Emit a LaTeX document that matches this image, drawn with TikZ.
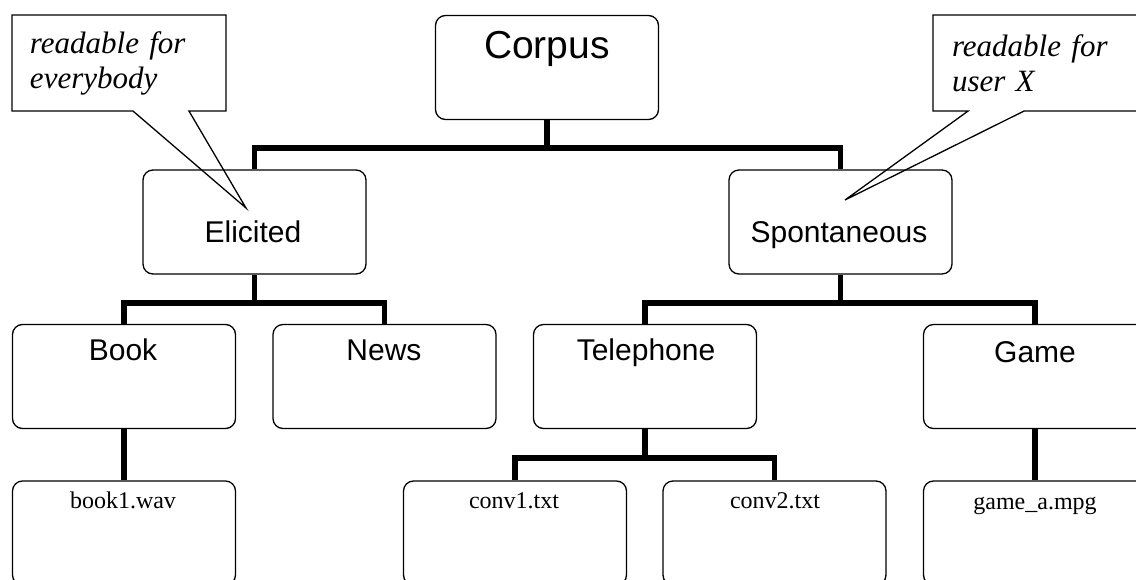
\documentclass[tikz,border=0pt]{standalone}
\usepackage{fontspec}
\setmainfont{Liberation Serif}
\newfontfamily\lsans{Liberation Sans}
\usetikzlibrary{shapes.callouts}
\begin{document}
\begin{tikzpicture}[x=1pt,y=-1pt,
  box/.style={draw, line width=1.3pt, rounded corners=10pt, minimum width=223pt, minimum height=104pt, inner sep=0pt},
  conn/.style={line width=5.5pt},
  big/.style={font=\lsans\fontsize{39}{46}\selectfont, anchor=base, inner sep=0pt},
  lbl/.style={font=\lsans\fontsize{30}{36}\selectfont, anchor=base, inner sep=0pt},
  fname/.style={font=\fontsize{24}{28}\selectfont, anchor=base, inner sep=0pt},
  note/.style={rectangle callout, draw, line width=1.3pt, font=\itshape\fontsize{31}{35}\selectfont, align=left, inner ysep=0pt, minimum height=96pt, callout pointer width=56pt}
]
\path[use as bounding box] (0,0) rectangle (1136,579);
\clip (0,0) rectangle (1136,579);

% boxes
\node[box] (corpus) at (547,67.5) {};
\node[box] (elicited) at (254.5,222) {};
\node[box] (spont) at (840.5,222) {};
\node[box] (book) at (124,376.5) {};
\node[box] (news) at (384.5,376.5) {};
\node[box] (tel) at (645,376.5) {};
\node[box] (game) at (1035,376.5) {};
\node[box] (book1) at (124,533) {};
\node[box] (conv1) at (515,533) {};
\node[box] (conv2) at (774.5,533) {};
\node[box] (gamea) at (1035,533) {};

% labels
\node[big] (corpus-t) at (547,58) {Corpus};
\node[lbl] (elicited-t) at (253,242) {Elicited};
\node[lbl] (spont-t) at (839,242) {Spontaneous};
\node[lbl] (book-t) at (123,360) {Book};
\node[lbl] (news-t) at (384,360) {News};
\node[lbl] (tel-t) at (646,360) {Telephone};
\node[lbl] (game-t) at (1035,362) {Game};
\node[fname] (book1-t) at (123,508) {book1.wav};
\node[fname] (conv1-t) at (514,508) {conv1.txt};
\node[fname] (conv2-t) at (775,508) {conv2.txt};
\node[fname] (gamea-t) at (1035,509) {game\_a.mpg};

% connectors
\coordinate (b1) at (547,148);
\draw[conn] (elicited.north) |- (b1) -| (spont.north);
\draw[conn] (corpus.south) -- (b1);
\coordinate (b2) at (254.5,303);
\draw[conn] (book.north) |- (b2) -| (news.north);
\draw[conn] (elicited.south) -- (b2);
\coordinate (b3) at (840.5,303);
\draw[conn] (tel.north) |- (b3) -| (game.north);
\draw[conn] (spont.south) -- (b3);
\draw[conn] (book.south) -- (book1.north);
\coordinate (b4) at (645,458);
\draw[conn] (conv1.north) |- (b4) -| (conv2.north);
\draw[conn] (tel.south) -- (b4);
\draw[conn] (game.south) -- (gamea.north);

% callouts
\coordinate (tipL) at (246,208);
\coordinate (tipR) at (845,200);
\node[note, text width=178pt, inner xsep=18pt, callout absolute pointer=(tipL)] (noteL) at (119,63) {readable for\\everybody};
\node[note, text width=251pt, inner xsep=19pt, callout absolute pointer=(tipR)] (noteR) at (1077.5,63) {readable for\\user X};
\end{tikzpicture}
\end{document}
